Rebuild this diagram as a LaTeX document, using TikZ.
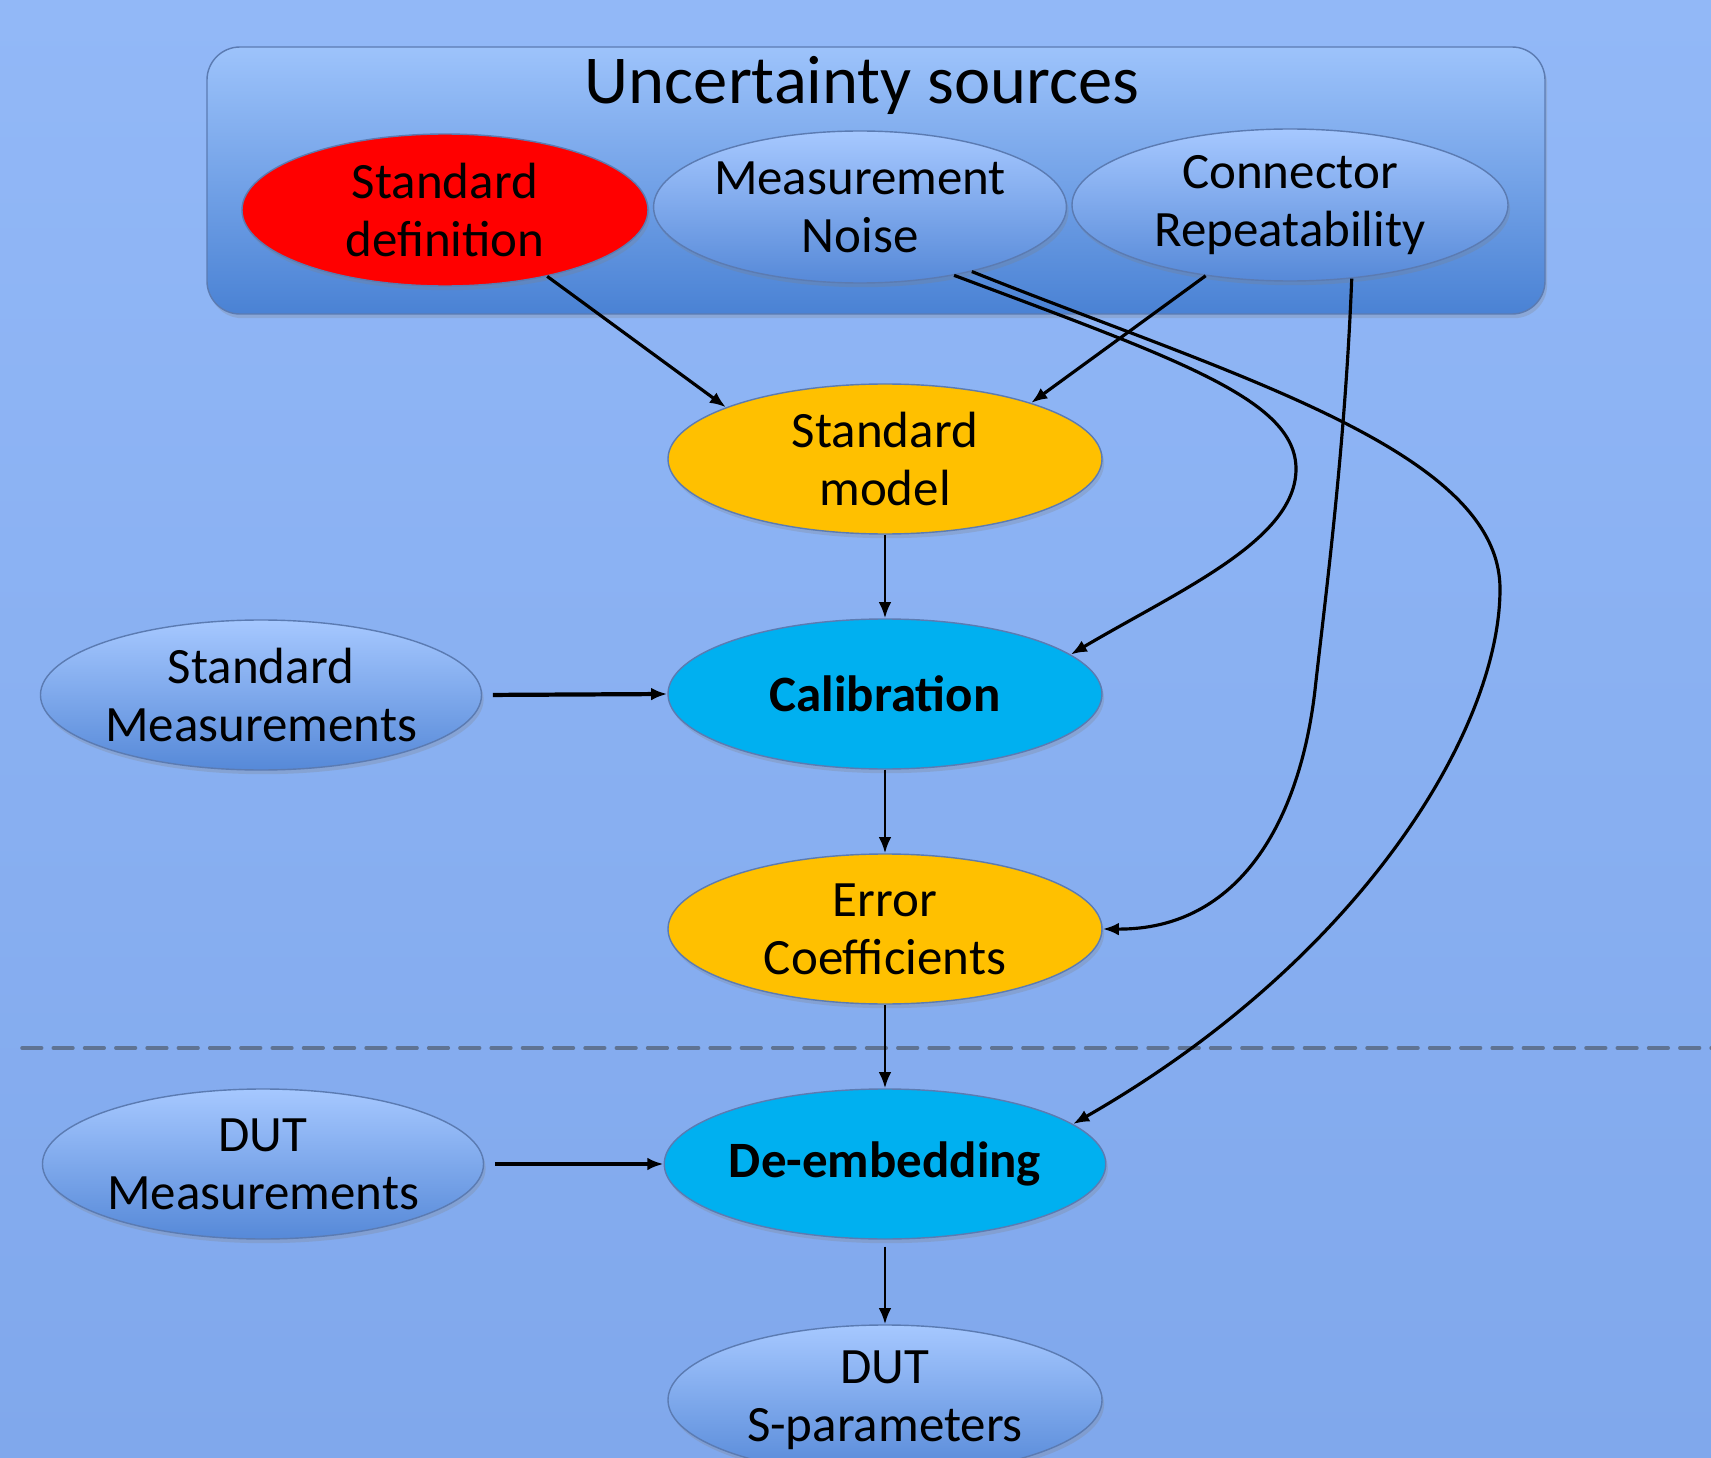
\documentclass[tikz,border=0pt]{standalone}
\usepackage{fontspec}
\setmainfont{Carlito}
\usetikzlibrary{arrows.meta}
\usetikzlibrary{shapes.geometric}
\usetikzlibrary{shadows}
\definecolor{bgtop}{HTML}{92B8F7}
\definecolor{bgbot}{HTML}{80A8EC}
\definecolor{boxtop}{HTML}{9DC3FB}
\definecolor{boxbot}{HTML}{4A82D4}
\definecolor{bluetop}{HTML}{A6C8FF}
\definecolor{bluebot}{HTML}{5689D8}
\definecolor{edgeblue}{HTML}{5B7BB2}
\definecolor{morange}{HTML}{FFC000}
\definecolor{mcyan}{HTML}{00B0F0}
\definecolor{dashgrey}{HTML}{5F7393}

\tikzset{
    blob/.style={ellipse, minimum width=4.34cm, minimum height=1.50cm, inner sep=0pt,
        align=center, font=\fontsize{14.5}{16.5}\selectfont, draw=edgeblue, line width=0.4pt,
        drop shadow={shadow xshift=0.6pt, shadow yshift=-1.2pt, opacity=0.25}},
    srcblob/.style={blob, top color=bluetop, bottom color=bluebot},
    stageblob/.style={blob, fill=morange},
    opblob/.style={blob, fill=mcyan, font=\fontsize{14.5}{16.5}\selectfont\bfseries},
    flow/.style={-{Latex[length=4.6pt,width=3.6pt]}, line width=0.9pt},
    thinflow/.style={flow, line width=0.75pt},
    thickflow/.style={flow, line width=1.2pt}
}

\begin{document}
\begin{tikzpicture}
    \useasboundingbox (0, 0) rectangle (17.11, -14.58);
    \clip (0, 0) rectangle (17.11, -14.58);
    \shade [top color=bgtop, bottom color=bgbot] (0, 0) rectangle (17.11, -14.58);

    \draw [dashgrey, line width=1pt, line cap=round, dash pattern=on 5.6pt off 3.3pt] (0.22, -10.48) -- (17.2, -10.48);

    \draw [edgeblue, line width=0.4pt, top color=boxtop, bottom color=boxbot, rounded corners=0.33cm,
        drop shadow={shadow xshift=0.6pt, shadow yshift=-1.2pt, opacity=0.25}] (2.07, -0.47) rectangle (15.45, -3.14);
    \node [font=\fontsize{19.5}{22}\selectfont] (title) at (8.62, -0.85) {Uncertainty sources};

    \node [blob, fill=red, minimum width=4.06cm, minimum height=1.52cm] (stddef) at (4.45, -2.10) {Standard\\definition};
    \node [srcblob, minimum width=4.10cm, minimum height=1.52cm] (measnoise) at (8.60, -2.07) {Measurement\\Noise};
    \node [srcblob, minimum width=4.36cm, minimum height=1.52cm] (connrep) at (12.90, -2.05) {Connector\\Repeatability};

    \node [stageblob] (stdmodel) at (8.85, -4.59) {Standard\\model};
    \node [opblob] (calib) at (8.85, -6.94) {Calibration};
    \node [srcblob] (stdmeas) at (2.61, -6.95) {Standard\\Measurements};
    \node [stageblob] (errcoef) at (8.85, -9.29) {Error\\Coefficients};
    \node [opblob] (deemb) at (8.85, -11.64) {De-embedding};
    \node [srcblob] (dutmeas) at (2.63, -11.64) {DUT\\Measurements};
    \node [srcblob] (duts) at (8.85, -14.00) {DUT\\S-parameters};

    \draw [flow] (stddef.-33) -- (stdmodel.162);
    \draw [flow] (connrep.220) -- (stdmodel.21);
    \draw [flow] (measnoise.-36) .. controls (11.8, -3.6) and (12.96, -4.0) .. (12.96, -4.69)
        .. controls (12.96, -5.4) and (11.8, -5.9) .. (calib.12);
    \draw [flow] (measnoise.-30) .. controls (12.3, -3.75) and (15.0, -4.5) .. (15.0, -5.89)
        .. controls (15.0, -7.3) and (13.6, -9.6) .. (deemb.12);
    \draw [flow] (connrep.-50) .. controls (13.45, -4.5) and (13.25, -6.0) .. (13.15, -6.9)
        .. controls (13.0, -8.2) and (12.4, -9.3) .. (errcoef.east);

    \draw [thinflow] (stdmodel.south) -- (calib.north);
    \draw [thinflow] (calib.south) -- (errcoef.north);
    \draw [thinflow] (errcoef.south) -- (deemb.north);
    \draw [thinflow, shorten <=2pt] (deemb.south) -- (duts.north);
    \draw [thickflow, shorten <=3pt] (stdmeas.east) -- (calib.west);
    \draw [thickflow, shorten <=3pt] (dutmeas.east) -- (deemb.west);
\end{tikzpicture}
\end{document}
